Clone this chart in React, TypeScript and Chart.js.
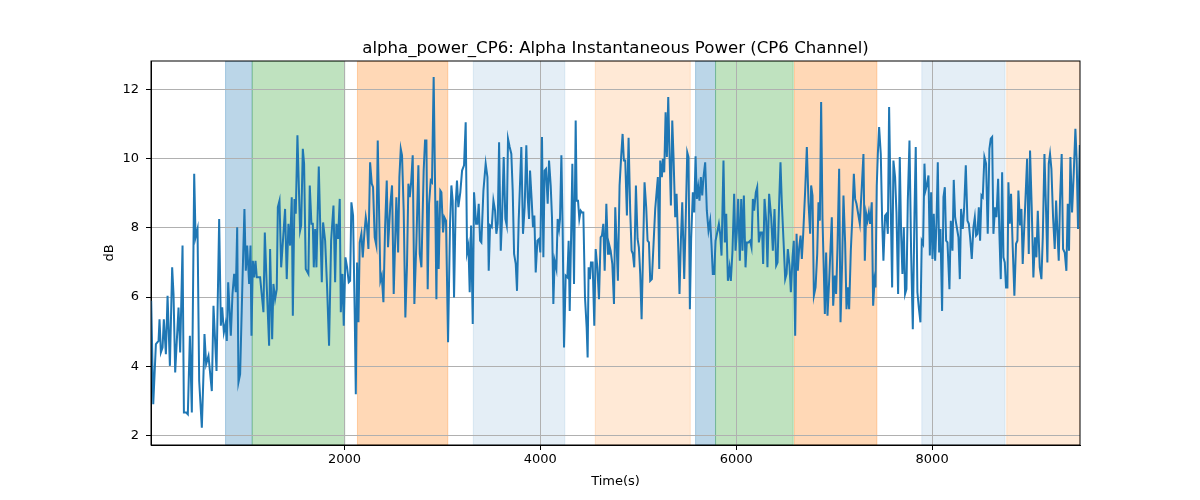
import { useEffect, useRef } from 'react';
import Chart from 'chart.js/auto';

// Time (s) of each sample
const timeSec = [
  27, 48, 75, 102, 112, 126, 143, 156, 177, 194,
  218, 241, 255, 272, 306, 323, 347, 361, 384, 401,
  422, 442, 466, 480, 500, 517, 544, 565, 571, 588,
  612, 646, 663, 694, 721, 738, 752, 769, 786, 799,
  813, 840, 857, 874, 891, 905, 918, 935, 959, 979,
  993, 1007, 1027, 1041, 1051, 1065, 1078, 1092, 1105, 1139,
  1173, 1187, 1207, 1231, 1241, 1262, 1275, 1292, 1309, 1320,
  1337, 1354, 1394, 1411, 1428, 1445, 1462, 1473, 1490, 1503,
  1520, 1547, 1558, 1575, 1588, 1605, 1632,
  1646, 1663, 1677, 1687, 1701, 1714, 1738, 1755, 1769, 1782,
  1803, 1823, 1843, 1864, 1888, 1905, 1918, 1935, 1952, 1963,
  1980, 1993, 2010, 2027, 2044, 2058, 2071, 2088, 2105, 2116,
  2129, 2143, 2156, 2173, 2187, 2204, 2218, 2228, 2245, 2262,
  2279, 2292, 2309, 2326, 2340, 2357, 2367, 2381, 2398, 2415,
  2432, 2445, 2469, 2486, 2503, 2530, 2548, 2561, 2575, 2588,
  2605, 2622, 2639, 2653, 2667, 2680, 2697, 2714, 2735, 2755,
  2769, 2786, 2809, 2823, 2837, 2850, 2864, 2881, 2894, 2911,
  2925, 2939, 2949, 2962, 2979, 2990, 3007, 3020, 3037, 3058,
  3078, 3092, 3105, 3119, 3136, 3149, 3163, 3183,
  3201, 3221, 3238, 3252, 3266, 3279, 3293, 3310, 3323, 3344,
  3357, 3371, 3385, 3398, 3419, 3442, 3460, 3473, 3487, 3504,
  3521, 3538, 3551, 3565, 3579, 3596, 3609, 3626, 3643, 3657,
  3670, 3687, 3704, 3718, 3732, 3749, 3762, 3779, 3806, 3823,
  3840, 3857, 3871, 3885, 3895, 3912, 3925, 3939, 3953, 3970,
  3987, 4000, 4017, 4031, 4044, 4058, 4075, 4089, 4106, 4119,
  4133, 4146, 4164, 4177, 4191, 4201, 4215, 4228, 4242, 4259,
  4276, 4289, 4300, 4313, 4327, 4344, 4361, 4371, 4385, 4398,
  4412, 4425, 4439, 4456, 4473, 4483, 4493, 4507, 4517, 4534,
  4551, 4565, 4582, 4599, 4616, 4629, 4643, 4657, 4674, 4691,
  4701, 4718, 4735, 4752, 4765,
  4775, 4792, 4809, 4826, 4840, 4853, 4867, 4884, 4901, 4918,
  4932, 4945, 4959, 4976, 4993, 5006, 5020, 5034, 5047, 5064,
  5081, 5095, 5109, 5122, 5139, 5156, 5173, 5187, 5200, 5214,
  5224, 5241, 5251, 5265, 5279, 5292, 5306, 5319, 5333, 5347,
  5360, 5377, 5391, 5408, 5421, 5435, 5449, 5469, 5483, 5500,
  5513, 5527, 5540, 5557, 5571, 5585, 5598, 5612, 5625, 5639,
  5653, 5666, 5683, 5700, 5717, 5734, 5748, 5761, 5775, 5789,
  5806, 5823, 5836, 5850, 5870, 5884, 5898, 5915, 5932, 5945,
  5962, 5979, 5993, 6006, 6020, 6037, 6051, 6064, 6078, 6095,
  6108, 6125, 6142, 6156, 6170, 6183, 6200, 6214, 6231, 6248,
  6265, 6275, 6289, 6306, 6319, 6336,
  6357, 6374, 6391, 6408, 6422, 6439, 6452, 6466, 6483, 6500,
  6514, 6527, 6544, 6558, 6575, 6588, 6602, 6616, 6629, 6643,
  6657, 6670, 6684, 6704, 6721, 6738, 6755, 6765, 6779, 6793,
  6810, 6827, 6840, 6854, 6867, 6881, 6895, 6905, 6918, 6932,
  6949, 6963, 6976, 6990, 7007, 7020, 7034, 7051, 7065, 7082,
  7095, 7112, 7126, 7139, 7153, 7170, 7184, 7201, 7214, 7228,
  7248, 7262, 7282, 7299, 7313, 7327, 7340, 7354, 7367, 7384,
  7398, 7412, 7422, 7435, 7446, 7459, 7476, 7490, 7503, 7520,
  7534, 7548, 7561, 7578, 7592, 7605, 7622, 7636, 7653, 7670,
  7684, 7697, 7711, 7724, 7738, 7752, 7769, 7786, 7803, 7820,
  7833, 7850, 7864, 7881, 7894, 7908, 7922,
  7932, 7946, 7963, 7977, 7990, 8004, 8017, 8031, 8045, 8058,
  8072, 8085, 8102, 8116, 8130, 8143, 8157, 8177, 8191, 8208,
  8221, 8235, 8252, 8269, 8283, 8296, 8313, 8327, 8344, 8361,
  8375, 8388, 8405, 8422, 8436, 8449, 8463, 8477, 8490, 8504,
  8517, 8534, 8551, 8568, 8585, 8599, 8613, 8626, 8643, 8657,
  8674, 8687, 8701, 8715, 8728, 8742, 8755, 8769, 8779, 8793,
  8806, 8823, 8840, 8857, 8871, 8881, 8898, 8912, 8925, 8943,
  8956, 8970, 8987, 9000, 9017, 9034, 9051, 9065, 9079, 9099,
  9116, 9130, 9147, 9164, 9177, 9191, 9204, 9218, 9235, 9252,
  9266, 9279, 9293, 9306, 9323, 9337, 9354, 9371, 9385, 9398,
  9412, 9429, 9446, 9463, 9476, 9490, 9508,
];

// alpha power in dB, same order as timeSec
const alphaDb = [
  5.89, 2.9, 4.64, 4.73, 5.36, 4.4, 4.54, 5.36, 4.35, 6.04,
  4.01, 6.86, 6.09, 3.82, 5.7, 4.4, 7.49, 2.66, 2.66, 2.61,
  4.88, 2.66, 9.57, 7.73, 7.97, 3.57, 2.22, 4.15, 4.93, 4.06,
  4.3, 3.28, 5.75, 3.86, 8.26, 5.17, 5.7, 4.98, 5.22, 4.73,
  6.43, 4.88, 6.09, 6.67, 6.14, 8.02, 3.53, 3.77, 6.47, 8.55,
  6.76, 7.49, 6.38, 7.49, 4.88, 7.05, 6.57, 7.05, 6.57, 6.57,
  5.56, 7.87, 6.28, 4.59, 7.39, 4.78, 6.38, 5.94, 6.23, 8.6,
  8.79, 6.86, 8.55, 6.52, 8.12, 7.49, 8.89, 5.46, 8.84, 8.41,
  10.68, 7.92, 8.07, 10.29, 9.86, 6.81, 6.67,
  9.23, 8.12, 8.12, 6.86, 7.97, 6.86, 9.78, 7.83, 6.43, 8.16,
  7.63, 6.28, 4.59, 7.63, 8.65, 6.43, 8.12, 7.68, 8.84, 5.56,
  6.67, 5.17, 7.15, 6.86, 6.43, 6.47, 8.74, 8.36, 5.51, 3.19,
  7.0, 5.27, 7.58, 7.83, 7.15, 7.87, 8.31, 8.12, 7.39, 9.9,
  9.28, 9.18, 7.73, 7.49, 10.53, 8.02, 6.47, 6.62, 5.85, 8.02,
  9.37, 7.44, 8.7, 9.23, 6.09, 8.89, 7.29, 9.47, 10.29, 10.1,
  8.5, 5.41, 6.96, 9.28, 8.89, 9.28, 10.1, 5.8, 7.63, 9.81,
  7.25, 6.86, 9.66, 10.53, 10.53, 6.23, 8.7, 9.37, 9.32, 12.37,
  9.32, 5.94, 8.79, 6.81, 9.08, 9.03, 7.87, 8.31, 8.21, 4.69,
  8.12, 9.23, 8.79, 5.99, 8.7, 9.37, 8.6, 9.03,
  9.66, 9.81, 11.06, 7.29, 7.49, 6.14, 8.07, 5.22, 9.03, 8.12,
  8.12, 8.7, 7.63, 7.58, 9.08, 9.86, 9.47, 6.76, 8.07, 8.02,
  8.79, 8.5, 7.83, 8.12, 10.48, 7.34, 8.26, 10.05, 8.26, 8.07,
  10.58, 10.34, 10.14, 9.08, 7.25, 6.96, 6.18, 8.21, 10.34, 7.83,
  8.6, 10.39, 8.89, 8.26, 9.66, 8.79, 8.02, 8.36, 6.71, 7.63,
  7.68, 7.29, 10.63, 7.15, 9.66, 9.71, 8.7, 9.95, 9.23, 8.31,
  5.8, 7.05, 6.81, 8.26, 7.97, 8.26, 10.1, 7.97, 4.54, 6.62,
  6.57, 7.63, 5.6, 7.54, 9.86, 6.38, 11.11, 8.79, 8.79, 8.26,
  8.5, 8.45, 8.45, 5.99, 5.12, 4.25, 6.86, 6.52, 7.0, 7.0,
  5.17, 7.39, 6.86, 5.94, 7.73, 7.78, 8.12, 6.76, 8.7, 7.25,
  7.54, 7.34, 6.96, 5.8, 8.6,
  7.83, 6.47, 9.23, 10.1, 10.72, 9.95, 9.95, 8.36, 10.61, 8.45,
  7.34, 7.25, 6.86, 9.23, 7.68, 7.44, 6.67, 5.36, 7.05, 9.32,
  8.6, 7.63, 7.58, 6.47, 6.52, 7.54, 8.55, 9.03, 9.47, 6.81,
  9.95, 9.47, 10.0, 9.61, 11.35, 10.05, 11.79, 10.14, 8.65, 11.11,
  10.05, 8.31, 8.99, 7.44, 6.09, 7.63, 8.74, 6.52, 8.07, 10.19,
  10.05, 5.65, 7.68, 9.03, 8.45, 10.07, 8.84, 9.18, 8.79, 9.47,
  8.94, 9.47, 9.9, 8.5, 7.92, 8.21, 7.49, 6.67, 6.67, 7.63,
  7.87, 8.12, 7.83, 7.2, 9.95, 7.58, 8.41, 6.47, 6.86, 6.47,
  7.34, 8.99, 7.34, 7.87, 8.84, 7.05, 8.84, 7.34, 8.94, 6.86,
  7.58, 7.58, 7.63, 7.44, 8.84, 8.5, 9.03, 9.18, 7.58, 7.87,
  7.87, 6.96, 8.84, 8.21, 6.86, 8.99,
  8.31, 7.34, 8.55, 6.91, 7.0, 8.79, 9.9, 8.7, 7.63, 6.52,
  6.67, 7.39, 6.91, 6.14, 7.15, 7.63, 4.88, 7.83, 6.76, 7.44,
  7.78, 7.1, 7.83, 9.08, 10.34, 8.74, 7.83, 9.23, 8.94, 6.04,
  6.28, 7.25, 8.74, 8.21, 11.64, 8.26, 6.67, 5.51, 7.29, 5.46,
  6.47, 7.44, 8.31, 5.75, 6.62, 6.09, 7.44, 9.71, 5.27, 7.05,
  8.94, 7.58, 5.65, 6.28, 5.65, 7.34, 8.21, 9.57, 8.84, 8.7,
  8.36, 8.12, 9.18, 10.14, 7.05, 8.41, 8.21, 8.45, 8.12, 8.74,
  5.75, 6.47, 6.28, 9.23, 10.14, 10.92, 10.14, 8.21, 7.05, 8.36,
  8.41, 7.83, 11.5, 8.55, 6.28, 9.95, 9.47, 8.45, 6.09, 10.05,
  7.78, 6.67, 8.02, 6.09, 6.23, 8.79, 10.53, 7.25, 5.07, 8.41,
  10.34, 6.14, 5.7, 5.27, 7.63, 7.54, 9.86,
  9.08, 9.23, 9.52, 7.2, 9.03, 7.1, 8.41, 7.05, 8.16, 9.9,
  7.29, 7.97, 5.6, 8.89, 9.18, 7.63, 7.58, 6.23, 8.21, 7.34,
  9.39, 8.31, 8.02, 7.73, 6.52, 8.55, 7.97, 8.55, 9.81, 8.21,
  8.12, 7.73, 7.1, 8.02, 8.31, 7.78, 7.83, 8.6, 7.63, 8.94,
  8.89, 10.05, 9.86, 7.83, 10.29, 10.58, 10.63, 7.83, 8.6, 8.31,
  9.42, 7.83, 6.52, 9.61, 7.15, 7.0, 6.28, 6.28, 9.32, 8.12,
  8.99, 7.44, 6.04, 7.54, 7.63, 9.08, 8.07, 8.55, 6.96, 8.16,
  9.03, 10.0, 7.25, 10.24, 8.6, 6.57, 7.73, 7.15, 8.5, 6.86,
  6.52, 7.73, 10.14, 8.45, 7.0, 9.86, 10.14, 9.71, 8.31, 7.39,
  8.79, 7.92, 7.05, 8.79, 10.14, 7.39, 7.29, 6.76, 8.7, 7.34,
  10.05, 8.45, 9.57, 10.87, 9.95, 7.97, 10.4,
];

// shaded intervals (s) and their fills
const spanStart = [786, 1058, 2133, 3316, 4561, 5585, 5789, 6595, 7895, 8762];
const spanEnd = [1058, 2003, 3055, 4250, 5531, 5789, 6582, 7436, 8745, 9510];
const spanColor = [
  'rgba(31,119,180,0.3)',
  'rgba(44,160,44,0.3)',
  'rgba(255,127,14,0.3)',
  'rgba(31,119,180,0.12)',
  'rgba(255,127,14,0.17)',
  'rgba(31,119,180,0.3)',
  'rgba(44,160,44,0.3)',
  'rgba(255,127,14,0.3)',
  'rgba(31,119,180,0.12)',
  'rgba(255,127,14,0.17)',
];

const xTicks = [2000, 4000, 6000, 8000];
const yTicks = [2, 4, 6, 8, 10, 12];

const TITLE = 'alpha_power_CP6: Alpha Instantaneous Power (CP6 Channel)';
const FONT = "'DejaVu Sans', sans-serif";

const spanPlugin = {
  id: 'spans',
  beforeDraw(chart: any) {
    const { ctx, chartArea, scales } = chart;
    ctx.save();
    ctx.beginPath();
    ctx.rect(chartArea.left, chartArea.top, chartArea.right - chartArea.left, chartArea.bottom - chartArea.top);
    ctx.clip();
    spanStart.forEach((s, i) => {
      const x0 = scales.x.getPixelForValue(s);
      const x1 = scales.x.getPixelForValue(spanEnd[i]);
      ctx.fillStyle = spanColor[i];
      ctx.fillRect(x0, chartArea.top, x1 - x0, chartArea.bottom - chartArea.top);
      ctx.strokeStyle = spanColor[i];
      ctx.lineWidth = 1;
      ctx.strokeRect(x0, chartArea.top, x1 - x0, chartArea.bottom - chartArea.top);
    });
    ctx.restore();
  },
};

// axes frame + title centred over the plot area (as matplotlib does)
const framePlugin = {
  id: 'frame',
  afterDraw(chart: any) {
    const { ctx, chartArea } = chart;
    ctx.save();
    ctx.strokeStyle = '#000';
    ctx.lineWidth = 1;
    ctx.strokeRect(chartArea.left, chartArea.top, chartArea.right - chartArea.left, chartArea.bottom - chartArea.top);
    ctx.fillStyle = '#000';
    ctx.font = `16.6px ${FONT}`;
    ctx.textAlign = 'center';
    ctx.textBaseline = 'alphabetic';
    ctx.fillText(TITLE, (chartArea.left + chartArea.right) / 2, chartArea.top - 8);
    ctx.restore();
  },
};

const App = () => {
  const chartRef = useRef<HTMLCanvasElement>(null);

  useEffect(() => {
    if (!chartRef.current) return;
    const ctx = chartRef.current.getContext('2d');
    if (!ctx) return;
    const chart = new Chart(ctx, {
      type: 'line',
      data: {
        datasets: [
          {
            data: timeSec.map((t, i) => ({ x: t, y: alphaDb[i] })),
            borderColor: '#1f77b4',
            borderWidth: 2,
            pointRadius: 0,
            tension: 0,
            fill: false,
          },
        ],
      },
      options: {
        animation: false,
        responsive: true,
        maintainAspectRatio: false,
        layout: { padding: { left: 0, right: 120, top: 61, bottom: 0 } },
        plugins: {
          legend: { display: false },
          tooltip: { enabled: false },
          title: { display: false },
        },
        scales: {
          x: {
            type: 'linear',
            min: 25,
            max: 9510,
            afterBuildTicks: (scale: any) => {
              scale.ticks = xTicks.map((v) => ({ value: v }));
            },
            afterFit: (scale: any) => {
              scale.height = 55;
            },
            grid: { color: '#b0b0b0', lineWidth: 1, tickColor: '#000', tickLength: 5 },
            border: { display: true, color: '#000', width: 1 },
            ticks: {
              color: '#000',
              font: { family: FONT, size: 13 },
              padding: 2,
              maxRotation: 0,
              callback: (v: any) => String(v),
            },
            title: {
              display: true,
              text: 'Time(s)',
              color: '#000',
              font: { family: FONT, size: 13, lineHeight: 1.2 },
              padding: { top: 0, bottom: 11 },
            },
          },
          y: {
            type: 'linear',
            min: 1.72,
            max: 12.83,
            afterBuildTicks: (scale: any) => {
              scale.ticks = yTicks.map((v) => ({ value: v }));
            },
            afterFit: (scale: any) => {
              scale.width = 151;
            },
            grid: { color: '#b0b0b0', lineWidth: 1, tickColor: '#000', tickLength: 5 },
            border: { display: true, color: '#000', width: 1 },
            ticks: {
              color: '#000',
              font: { family: FONT, size: 13 },
              padding: 7,
              callback: (v: any) => String(v),
            },
            title: {
              display: true,
              text: 'dB',
              color: '#000',
              font: { family: FONT, size: 13, lineHeight: 1.2 },
              padding: { top: 102, bottom: 0 },
            },
          },
        },
      },
      plugins: [spanPlugin, framePlugin],
    });

    return () => {
      chart.destroy();
    };
  }, []);

  return (
    <div style={{ position: 'fixed', left: 0, top: 0, width: 1200, height: 500, background: '#fff' }}>
      <canvas ref={chartRef} />
    </div>
  );
};

export default App;
